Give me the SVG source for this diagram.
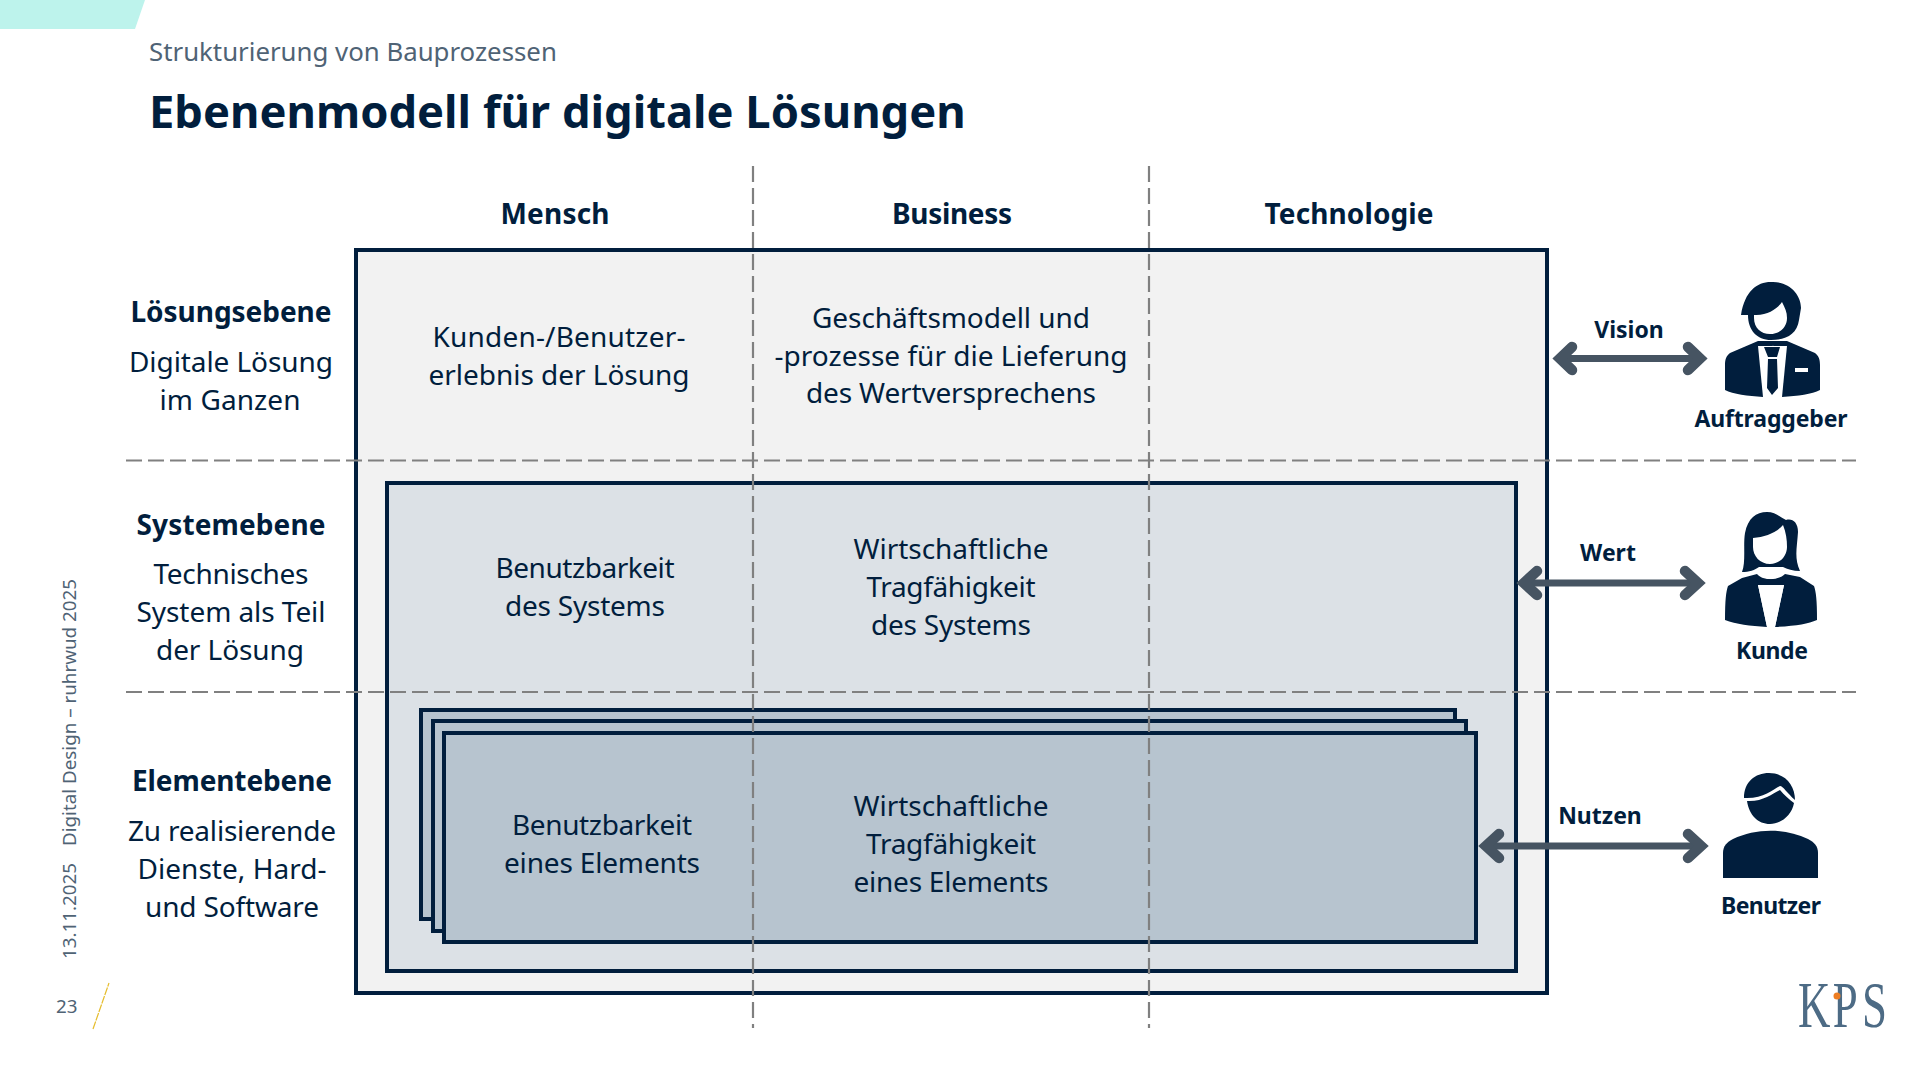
<svg xmlns="http://www.w3.org/2000/svg" width="1920" height="1080" viewBox="0 0 1920 1080">
<style>
text{font-family:"Noto Sans","Open Sans","Liberation Sans",sans-serif;fill:#011e3d}
.c{text-anchor:middle;font-size:28px}
.b{text-anchor:middle;font-size:28px;font-weight:700}
.s{text-anchor:middle;font-size:23px;font-weight:700}
.g{fill:#4f6375;font-size:18.800px}
.box{stroke:#011e3d;stroke-width:4}
.dash{stroke:#808080;stroke-width:2.2;stroke-dasharray:16 6;fill:none}
.arrow{stroke:#465462;fill:none;stroke-linecap:round;stroke-linejoin:miter}
.ic{fill:#011e3d}
</style>
<rect width="1920" height="1080" fill="#fff"/>
<polygon points="0,0 145,0 135,29 0,29" fill="#bdf3ec"/>
<text x="149" y="61" style="fill:#4f6375;font-size:25.800px">Strukturierung von Bauprozessen</text>
<text x="149" y="128" style="font-size:45.300px;font-weight:700">Ebenenmodell für digitale Lösungen</text>
<g id="side">
<text class="g" transform="translate(76,959) rotate(-90)">13.11.2025</text>
<text class="g" transform="translate(76,846) rotate(-90)">Digital Design – ruhrwud 2025</text>
<text class="g" x="56" y="1013">23</text>
<line x1="93" y1="1029" x2="109" y2="983" stroke="#e6bd2e" stroke-width="1.2" stroke-dasharray="8 1"/>
</g>
<g id="frames">
<rect id="outer" class="box" x="356" y="250" width="1191" height="743" fill="#f2f2f2"/>
<rect id="system" class="box" x="387" y="483" width="1129" height="488" fill="#dce1e6"/>
<rect id="el3" class="box" x="421" y="710" width="1034" height="209" fill="#b7c4cf"/>
<rect id="el2" class="box" x="433" y="721" width="1033" height="210" fill="#b7c4cf"/>
<rect id="el1" class="box" x="444" y="733" width="1032" height="209" fill="#b7c4cf"/>
</g>
<g id="grid">
<line class="dash" x1="753" y1="166" x2="753" y2="1028"/>
<line class="dash" x1="1149" y1="166" x2="1149" y2="1028"/>
<line class="dash" x1="126" y1="460.500" x2="1856" y2="460.500"/>
<line class="dash" x1="126" y1="692" x2="1856" y2="692"/>
</g>
<g id="heads">
<text class="b" x="555" y="224" textLength="109">Mensch</text>
<text class="b" x="952" y="224" textLength="120">Business</text>
<text class="b" x="1349" y="224" textLength="169">Technologie</text>
</g>
<g id="row-loesung">
<text class="b" x="231" y="322" textLength="201">Lösungsebene</text>
<text class="c" x="231" y="372" textLength="204">Digitale Lösung</text>
<text class="c" x="230" y="410" textLength="141">im Ganzen</text>
</g>
<g id="row-system">
<text class="b" x="231" y="535" textLength="189">Systemebene</text>
<text class="c" x="231" y="584" textLength="155">Technisches</text>
<text class="c" x="231" y="622" textLength="189">System als Teil</text>
<text class="c" x="230" y="660" textLength="148">der Lösung</text>
</g>
<g id="row-element">
<text class="b" x="232" y="791" textLength="200">Elementebene</text>
<text class="c" x="232" y="841" textLength="208">Zu realisierende</text>
<text class="c" x="232" y="879" textLength="189">Dienste, Hard-</text>
<text class="c" x="232" y="917" textLength="174">und Software</text>
</g>
<g id="cells">
<text class="c" x="559" y="347" textLength="253">Kunden-/Benutzer-</text>
<text class="c" x="559" y="385" textLength="261">erlebnis der Lösung</text>
<text class="c" x="951" y="328" textLength="278">Geschäftsmodell und</text>
<text class="c" x="951" y="366" textLength="353">-prozesse für die Lieferung</text>
<text class="c" x="951" y="403" textLength="290">des Wertversprechens</text>
<text class="c" x="585" y="578" textLength="179">Benutzbarkeit</text>
<text class="c" x="585" y="616" textLength="160">des Systems</text>
<text class="c" x="951" y="559" textLength="195">Wirtschaftliche</text>
<text class="c" x="951" y="597" textLength="169">Tragfähigkeit</text>
<text class="c" x="951" y="635" textLength="160">des Systems</text>
<text class="c" x="602" y="835" textLength="180">Benutzbarkeit</text>
<text class="c" x="602" y="873" textLength="196">eines Elements</text>
<text class="c" x="951" y="816" textLength="195">Wirtschaftliche</text>
<text class="c" x="951" y="854" textLength="170">Tragfähigkeit</text>
<text class="c" x="951" y="892" textLength="195">eines Elements</text>
</g>
<g id="connectors">
<g class="arrow" stroke-width="7">
<path d="M1560 358.500H1700"/><path d="M1572 347L1560 358.500L1572 370M1688 347L1700 358.500L1688 370" stroke-width="10.500"/>
<path d="M1524 583H1698"/><path d="M1537 571L1524 583L1537 595M1685 571L1698 583L1685 595" stroke-width="10.500"/>
<path d="M1486 846H1701"/><path d="M1499 834L1486 846L1499 858M1688 834L1701 846L1688 858" stroke-width="10.500"/>
</g>
<text class="s" x="1629" y="338">Vision</text>
<text class="s" x="1608" y="561">Wert</text>
<text class="s" x="1600" y="824">Nutzen</text>
</g>
<g id="auftraggeber">
<path class="ic" d="M1741 315C1745 290 1758 281 1773 282C1790 282 1801 295 1801 308L1799 320C1797 335 1785 340 1771 340C1757 340 1748 330 1748 315Z"/>
<path d="M1754 315C1768 316 1778 308 1782 302C1785 308 1787 312 1787 318C1787 328 1779 334 1770 334C1761 334 1754 328 1754 318Z" fill="#fff"/>
<path class="ic" d="M1758 341L1730 353C1726 356 1725 360 1725 365V390C1733 394 1748 396 1763 397L1773 345L1782 397C1798 396 1812 394 1820 390V365C1820 360 1819 356 1815 353L1787 341Z"/>
<path d="M1758 346H1787L1782 397H1763Z" fill="#fff"/>
<path class="ic" d="M1764 347H1780L1777 357H1768ZM1768 359H1777L1778 388L1772 395L1767 388Z"/>
<rect x="1795" y="368" width="13" height="4" fill="#fff"/>
</g>
<g id="kunde">
<path class="ic" d="M1742 572C1746 562 1743 545 1745 533C1748 518 1756 512 1767 512C1775 512 1780 517 1786 520C1792 518 1798 522 1798 532C1797 548 1794 558 1800 571C1793 571 1787 569 1783 567H1759C1755 570 1749 572 1742 572Z"/>
<path d="M1753 538C1765 537 1776 533 1783 525C1786 532 1787 540 1787 547C1787 556 1780 564 1770 564C1760 564 1753 556 1753 547Z" fill="#fff"/>
<path class="ic" d="M1757 574C1763 581 1778 581 1785 574L1800 577L1814 586C1816 592 1817 600 1817 620C1808 624 1796 626 1775 627L1784 585H1758L1767 627C1750 626 1736 624 1725 620C1725 600 1726 592 1728 586L1742 578Z"/>
<path d="M1758 585H1784L1775 627H1767Z" fill="#fff"/>
<path d="M1757 579C1765 582 1778 582 1785 579" stroke="#011e3d" stroke-width="4" fill="none"/>
</g>
<g id="benutzer">
<path class="ic" d="M1744 798C1744 782 1755 773 1769 773C1785 773 1795 785 1795 800C1787 793 1783 786 1780 786C1772 790 1763 799 1744 798Z"/>
<path class="ic" d="M1747 801C1762 802 1772 794 1780 790C1784 795 1790 800 1794 803C1792 815 1781 824 1770 824C1758 824 1749 815 1747 801Z"/>
<path class="ic" d="M1723 878V853C1723 846 1727 842 1733 839C1756 828 1785 828 1808 839C1814 842 1818 846 1818 853V878Z"/>
</g>
<g id="person-labels">
<text class="s" x="1771" y="427" textLength="153">Auftraggeber</text>
<text class="s" x="1772" y="659" textLength="72">Kunde</text>
<text class="s" x="1771" y="914" textLength="100">Benutzer</text>
</g>
<g id="logo">
<text transform="translate(1798,1027) scale(.68,1)" style="font-family:'Liberation Serif',serif;fill:#4d6b85;font-size:66px"><tspan x="0">K</tspan><tspan x="51">P</tspan><tspan x="94">S</tspan></text>
<circle cx="1837" cy="996" r="3.500" fill="#ed7d22"/>
</g>
</svg>
